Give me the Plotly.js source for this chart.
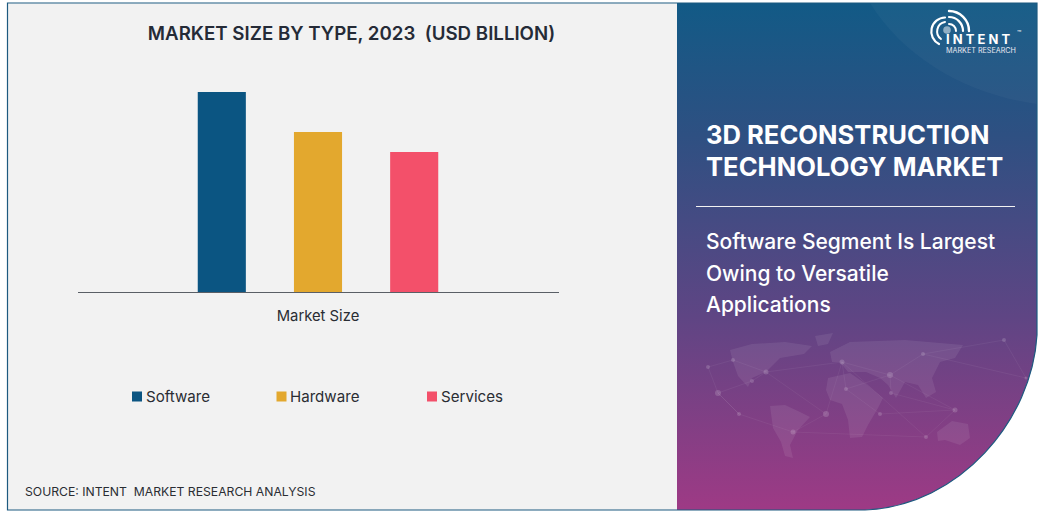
<!DOCTYPE html>
<html><head><meta charset="utf-8">
<script src="https://cdn.plot.ly/plotly-3.0.1.min.js"></script>
<style>html,body{margin:0;padding:0;background:#fff}#c{width:1043px;height:513px}</style></head>
<body><div id="c"></div>
<script>
const categories = ["Market Size"];
const seriesNames = ["Software", "Hardware", "Services"];
const seriesValues = [10, 8, 7];
const seriesColors = ["#0b5582", "#e3a82e", "#f3506a"];
const legendSwatchX = [132, 276.5, 427];
const chartTitle = "MARKET SIZE BY TYPE, 2023  (USD BILLION)";
const sourceText = "SOURCE: INTENT  MARKET RESEARCH ANALYSIS";
const panelTitle = ["3D RECONSTRUCTION", "TECHNOLOGY MARKET"];
const panelText = ["Software Segment Is Largest", "Owing to Versatile", "Applications"];

const W = 1043, H = 513;
const px = x => x / W;
const py = y => 1 - y / H;

const panelPath = "M677,3H1037V335C1032,420 960,506 865,510H677Z";
const landPaths = [
 "M730,350L752,344L785,342L812,346L804,354L780,358L766,372L752,378L748,387L738,376L733,362Z",
 "M815,336L833,333L828,344L818,346Z",
 "M770,406L785,405L800,412L810,417L798,430L790,445L793,458L785,456L781,442L773,428Z",
 "M830,352L850,342L905,340L963,345L955,358L940,362L932,378L936,392L926,398L918,385L905,382L896,398L888,385L880,378L866,372L848,372L840,362L832,362Z",
 "M828,378L850,373L866,384L883,398L878,408L868,425L862,437L850,438L848,420L842,404L830,400L826,390Z",
 "M937,432L952,421L968,424L970,438L960,445L945,440L938,441Z"
];
const nodes = [[708,367,2],[733,360,2],[766,372,2.5],[752,381,2],[718,393,3],[739,414,2],[826,414,3],[793,432,2.5],[842,362,2.5],[890,375,3],[891,393,2],[955,410,2.5],[923,354,2],[1004,340,2],[1026,378,1.5],[926,437,2],[846,389,2],[880,414,2]];
const links = [[0,1],[1,2],[2,3],[3,4],[2,6],[6,7],[7,5],[5,4],[6,8],[8,9],[9,10],[10,11],[9,12],[12,13],[13,14],[8,15],[15,11],[9,11],[2,8],[4,5],[16,9],[16,8],[7,15],[16,17],[17,11],[0,4],[12,14]];

const svg = `<svg xmlns="http://www.w3.org/2000/svg" width="${W}" height="${H}" viewBox="0 0 ${W} ${H}">
<defs><linearGradient id="g" x1="0" y1="0" x2="0" y2="1">
<stop offset="0" stop-color="#125a86"/><stop offset="0.26" stop-color="#2e5082"/><stop offset="0.62" stop-color="#5f4584"/><stop offset="1" stop-color="#9e3a85"/></linearGradient>
<clipPath id="p"><path d="${panelPath}"/></clipPath></defs>
<rect x="7.5" y="3.5" width="669.5" height="506.5" fill="#f2f2f2"/>
<path d="${panelPath}" fill="url(#g)"/>
<g clip-path="url(#p)">
<path d="M870,3C905,60 970,95 1037,104V3Z" fill="#fff" opacity="0.03"/>
${landPaths.map(d=>`<path d="${d}" fill="#fff" opacity="0.08"/>`).join("")}
${links.map(([a,b])=>`<line x1="${nodes[a][0]}" y1="${nodes[a][1]}" x2="${nodes[b][0]}" y2="${nodes[b][1]}" stroke="#fff" stroke-width="0.5" opacity="0.1"/>`).join("")}
${nodes.map(n=>`<circle cx="${n[0]}" cy="${n[1]}" r="${n[2]}" fill="#fff" opacity="0.16"/>`).join("")}
</g>
<path d="M677,510H865C960,506 1032,420 1037,335V3H7.5V510H677" fill="none" stroke="#1d5a80" stroke-width="1.2"/>
<g fill="none" stroke="#fff" stroke-linecap="round">
<path d="M945,22A9.5,9.5 0 0 0 941,39" stroke-width="2"/>
<path d="M945,17.5A14,14 0 0 0 939,44" stroke-width="2.2"/>
<path d="M949,24A7,7 0 0 1 956,31" stroke-width="2"/>
<path d="M949,17A14,14 0 0 1 963,31" stroke-width="2.2"/>
<path d="M949,11A20,20 0 0 1 969,31" stroke-width="2.4"/>
</g>
<circle cx="947" cy="30" r="3.8" fill="#fff" opacity="0.5"/>
</svg>`;
const bgHref = "data:image/svg+xml;charset=utf-8," + encodeURIComponent(svg);

const traces = seriesNames.map((name, i) => ({
  type: "bar", name, x: categories, y: [seriesValues[i]],
  marker: { color: seriesColors[i] }, hoverinfo: "x+y+name"
}));

const txt = (text, x, y, size, color, weight) => ({
  text, xref: "paper", yref: "paper", x: px(x), y: py(y), xanchor: "left", yanchor: "middle",
  showarrow: false, align: "left",
  font: { family: "Inter, 'Open Sans', sans-serif", size, color, weight: weight || 400 }
});

const layout = {
  width: W, height: H, autosize: false,
  margin: { l: 0, r: 0, t: 0, b: 0, pad: 0 },
  paper_bgcolor: "rgba(0,0,0,0)", plot_bgcolor: "rgba(0,0,0,0)",
  barmode: "group", bargap: 0.4, bargroupgap: 0.5,
  title: { text: chartTitle, xref: "paper", x: px(351.5), xanchor: "center", yref: "container", y: 1 - 33.5 / H, yanchor: "middle",
    font: { family: "Inter, sans-serif", size: 18.7, color: "#252b37", weight: 600 } },
  xaxis: { type: "category", domain: [px(77.5), px(558.5)], showline: true, linecolor: "#5a5f66", linewidth: 1, ticks: "", showgrid: false, zeroline: false,
    tickfont: { family: "Inter, sans-serif", size: 14.8, color: "#2a2d33" }, ticklabelstandoff: 10 },
  yaxis: { visible: false, domain: [py(292), py(42)], range: [0, 12.5], fixedrange: true },
  showlegend: false,
  images: [{ source: bgHref, xref: "paper", yref: "paper", x: 0, y: 1, sizex: 1, sizey: 1,
    sizing: "stretch", xanchor: "left", yanchor: "top", layer: "below" }],
  shapes: [
    { type: "line", xref: "paper", yref: "paper", x0: px(696), x1: px(1015), y0: py(206.5), y1: py(206.5), line: { color: "#f2f2f2", width: 1 } },
    ...seriesColors.map((c, i) => ({ type: "rect", xref: "paper", yref: "paper", x0: px(legendSwatchX[i]), x1: px(legendSwatchX[i] + 10),
      y0: py(401.5), y1: py(391.5), fillcolor: c, line: { width: 0 } }))
  ],
  annotations: [
    ...seriesNames.map((n, i) => txt(n, legendSwatchX[i] + 11.5, 396, 15.1, "#2a2d33")),
    txt(sourceText, 23, 491, 12.2, "#2a2d33"),
    txt(panelTitle[0], 703.5, 135, 25.6, "#ffffff", 700),
    txt(panelTitle[1], 703.5, 166, 25.6, "#ffffff", 700),
    txt(panelText[0], 703.5, 241, 21, "#ffffff", 500),
    txt(panelText[1], 703.5, 273, 21, "#ffffff", 500),
    txt(panelText[2], 703.5, 304, 21, "#ffffff", 500),
    txt("I N T E N T", 944, 39.5, 13, "#ffffff", 700),
    txt("MARKET RESEARCH", 944, 51, 7.2, "#e8e8f0", 400),
    txt("™", 1015, 33, 7, "#ffffff", 400)
  ]
};
Plotly.newPlot("c", traces, layout, { displayModeBar: false });
</script></body></html>
